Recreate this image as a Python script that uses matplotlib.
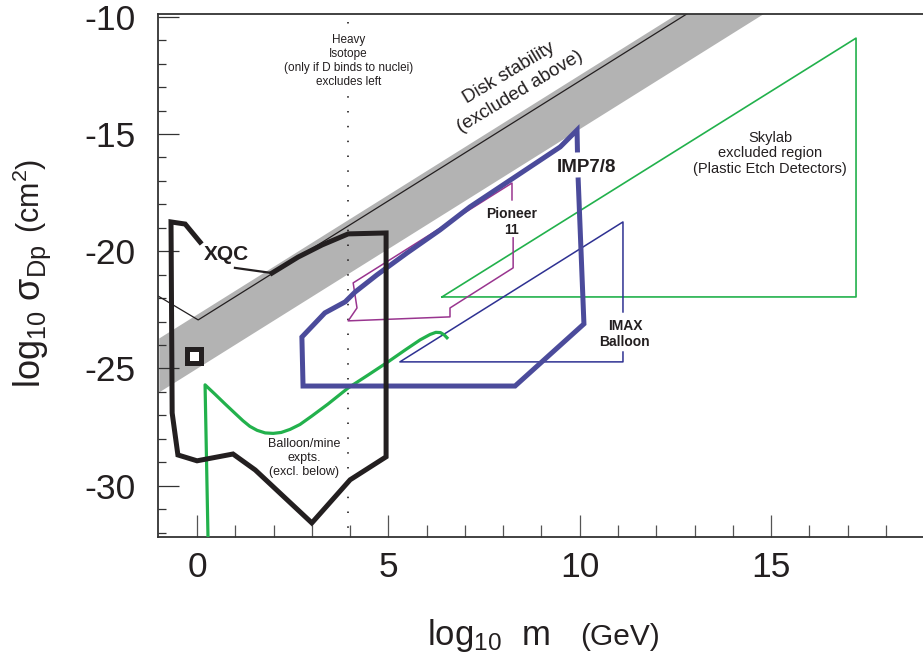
import matplotlib
matplotlib.use('Agg')
import matplotlib.pyplot as plt

plt.rcParams['font.family'] = ['Liberation Sans', 'DejaVu Sans']
plt.rcParams['mathtext.fontset'] = 'custom'
plt.rcParams['mathtext.rm'] = 'Liberation Sans'
plt.rcParams['mathtext.it'] = 'Liberation Sans:italic'
plt.rcParams['mathtext.bf'] = 'Liberation Sans:bold'
plt.rcParams['axes.unicode_minus'] = False

# ---------------- data ----------------
xticks = [0, 5, 10, 15]
xtick_labels = ['0', '5', '10', '15']
yticks = [-30, -25, -20, -15, -10]
ytick_labels = ['-30', '-25', '-20', '-15', '-10']

# disk stability band and line
band_x = [-1.0, 16.0]
band_lo = [-26.0, -8.63]
band_hi = [-23.7, -6.33]
disk_x = [-1.1, 0.03, 13.5]
disk_y = [-21.83, -22.93, -9.16]

# XQC (open outline, gap at label)
xqc_x = [0.99, 1.96, 2.64, 3.27, 3.95, 4.94, 4.94, 4.00, 3.00, 1.52, 0.94, 0.00, -0.50, -0.65, -0.68, -0.31, 0.08]
xqc_y = [-20.71, -20.93, -20.25, -19.73, -19.26, -19.22, -28.77, -29.75, -31.59, -29.33, -28.65, -28.94, -28.69, -26.90, -18.75, -18.84, -19.61]
sq_x = [-0.08]
sq_y = [-24.45]

# Balloon / mine experiments
bal_x = [0.29, 0.21, 0.47, 0.73, 0.99, 1.20, 1.38, 1.57, 1.78, 1.99, 2.20, 2.43, 2.69, 3.00, 3.42, 3.95,
         4.47, 4.99, 5.44, 5.83, 6.09, 6.24, 6.36, 6.46, 6.56]
bal_y = [-32.5, -25.70, -26.10, -26.51, -26.91, -27.23, -27.47, -27.64, -27.75, -27.77, -27.73, -27.60,
         -27.39, -27.03, -26.52, -25.83, -25.28, -24.72, -24.21, -23.78, -23.55, -23.46, -23.47, -23.57, -23.74]

# IMP7/8
imp_x = [9.96, 10.11, 8.31, 2.77, 2.74, 3.34, 3.87, 4.13, 4.70, 5.49, 6.35, 7.13, 9.49, 9.93, 9.94]
imp_y = [-16.96, -23.10, -25.75, -25.75, -23.66, -22.63, -22.16, -21.74, -21.01, -20.07, -19.09, -18.11, -15.55, -14.83, -15.68]

# Pioneer 11
pio_x = [8.23, 8.23, 4.08, 4.18, 3.95, 6.61, 6.61, 8.26, 8.26]
pio_y = [-17.81, -17.09, -21.35, -22.42, -22.97, -22.80, -22.42, -20.71, -19.43]

# IMAX Balloon
imax_x = [11.13, 11.13, 5.30, 11.13, 11.13]
imax_y = [-22.59, -18.75, -24.72, -24.72, -24.30]

# Skylab
sky_x = [6.40, 17.22, 17.22, 6.40]
sky_y = [-21.95, -21.95, -10.91, -21.95]

# Heavy isotope limit
heavy_x = [3.95, 3.95]
heavy_y = [-10.22, -32.3]

# ---------------- colours ----------------
BLACK = '#231f20'
GRAY = '#b3b3b3'
GREEN = '#22b14c'
IMPC = '#4b4b9b'
PURPLE = '#99358f'
IMAXC = '#2e3192'
TXT = '#231f20'

fig = plt.figure(figsize=(9.23, 6.6), dpi=100)
ax = fig.add_axes([158/923, (660-537)/660, (923-158)/923, (537-14)/660])
ax.set_xlim(-1.02, 18.97)
ax.set_ylim(-32.19, -9.88)

ax.fill_between(band_x, band_lo, band_hi, color=GRAY, lw=0, zorder=1)
ax.plot(disk_x, disk_y, color=BLACK, lw=0.9, zorder=2)

ax.plot(heavy_x, heavy_y, color=BLACK, lw=1.2, dashes=(0.9, 8.0), zorder=2)

ax.plot(sky_x, sky_y, color=GREEN, lw=1.2, zorder=3)
ax.plot(imax_x, imax_y, color=IMAXC, lw=1.1, zorder=3)
ax.plot(pio_x, pio_y, color=PURPLE, lw=1.1, zorder=3)
ax.plot(bal_x, bal_y, color=GREEN, lw=2.3, solid_joinstyle='round', solid_capstyle='butt', zorder=4)
ax.plot(imp_x, imp_y, color=IMPC, lw=3.6, solid_joinstyle='miter', zorder=5)
ax.plot(xqc_x[:2], xqc_y[:2], color=BLACK, lw=1.6, zorder=6)
ax.plot(xqc_x[1:], xqc_y[1:], color=BLACK, lw=3.6, solid_joinstyle='miter', zorder=6)
ax.plot(sq_x, sq_y, marker='s', ms=9.5, mfc='white', mec=BLACK, mew=3.6, ls='none', zorder=7)

# ---------------- text ----------------
ax.text(3.95, -11.89, 'Heavy\nIsotope\n(only if D binds to nuclei)\nexcludes left', ha='center', va='center',
        fontsize=8.5, color=TXT, linespacing=1.2, zorder=8,
        bbox=dict(facecolor='white', edgecolor='none', pad=1.5))
ax.text(0.78, -20.16, 'XQC', ha='center', va='center', fontsize=15, fontweight='bold', color=TXT, zorder=8)
ax.text(2.80, -28.82, 'Balloon/mine\nexpts.\n(excl. below)', ha='center', va='center', fontsize=9,
        color=TXT, linespacing=1.2, zorder=8)
ax.text(14.97, -15.83, 'Skylab\nexcluded region\n(Plastic Etch Detectors)', ha='center', va='center',
        fontsize=10.5, color=TXT, linespacing=1.15, zorder=8)
ax.text(8.30, -12.80, 'Disk stability\n(excluded above)', ha='center', va='center', fontsize=13.5,
        rotation=31, color=TXT, linespacing=1.3, zorder=8)
ax.text(10.19, -16.41, 'IMP7/8', ha='center', va='center', fontsize=13.5, fontweight='bold', color=TXT, zorder=8)
ax.text(8.23, -18.75, 'Pioneer\n11', ha='center', va='center', fontsize=10, fontweight='bold', color=TXT,
        linespacing=1.2, zorder=8)
ax.text(11.18, -23.53, 'IMAX\nBalloon', ha='center', va='center', fontsize=10, fontweight='bold', color=TXT,
        linespacing=1.2, zorder=8)

# ---------------- axes ----------------
ax.spines['right'].set_visible(False)
for s in ['left', 'top', 'bottom']:
    ax.spines[s].set_color('#333333')
    ax.spines[s].set_linewidth(1.3)

ax.set_xticks(xticks)
ax.set_xticklabels(xtick_labels)
ax.set_xticks(list(range(1, 19)), minor=True)
ax.set_yticks(yticks)
ax.set_yticklabels(ytick_labels)
ax.set_yticks(list(range(-32, -10)), minor=True)

ax.tick_params(axis='x', which='major', direction='in', length=16, width=0.9, color='#555555',
               labelsize=25.5, pad=10, labelcolor=TXT)
ax.tick_params(axis='x', which='minor', direction='in', length=9, width=0.9, color='#555555')
ax.tick_params(axis='y', which='major', direction='in', length=15, width=0.9, color='#333333',
               labelsize=25.5, pad=16, labelcolor=TXT)
ax.tick_params(axis='y', which='minor', direction='in', length=6, width=0.9, color='#333333')
ax.tick_params(top=False, right=False, which='both')

# axis labels
fig.text(427/923, 1-645/660, r'log$_{\mathregular{10}}$  m', fontsize=25, ha='left', va='baseline', color=TXT)
fig.text(580/923, 1-645/660, '(GeV)', fontsize=21.5, ha='left', va='baseline', color=TXT)
fig.text(40/923, 1-388/660, r'log$_{\mathregular{10}}$ σ$_{\mathregular{Dp}}$', fontsize=26, rotation=90,
         rotation_mode='anchor', ha='left', va='baseline', color=TXT)
fig.text(40/923, 1-233/660, r'(cm$^{\mathregular{2}}$)', fontsize=22, rotation=90,
         rotation_mode='anchor', ha='left', va='baseline', color=TXT)

fig.savefig('out.png', dpi=100)
